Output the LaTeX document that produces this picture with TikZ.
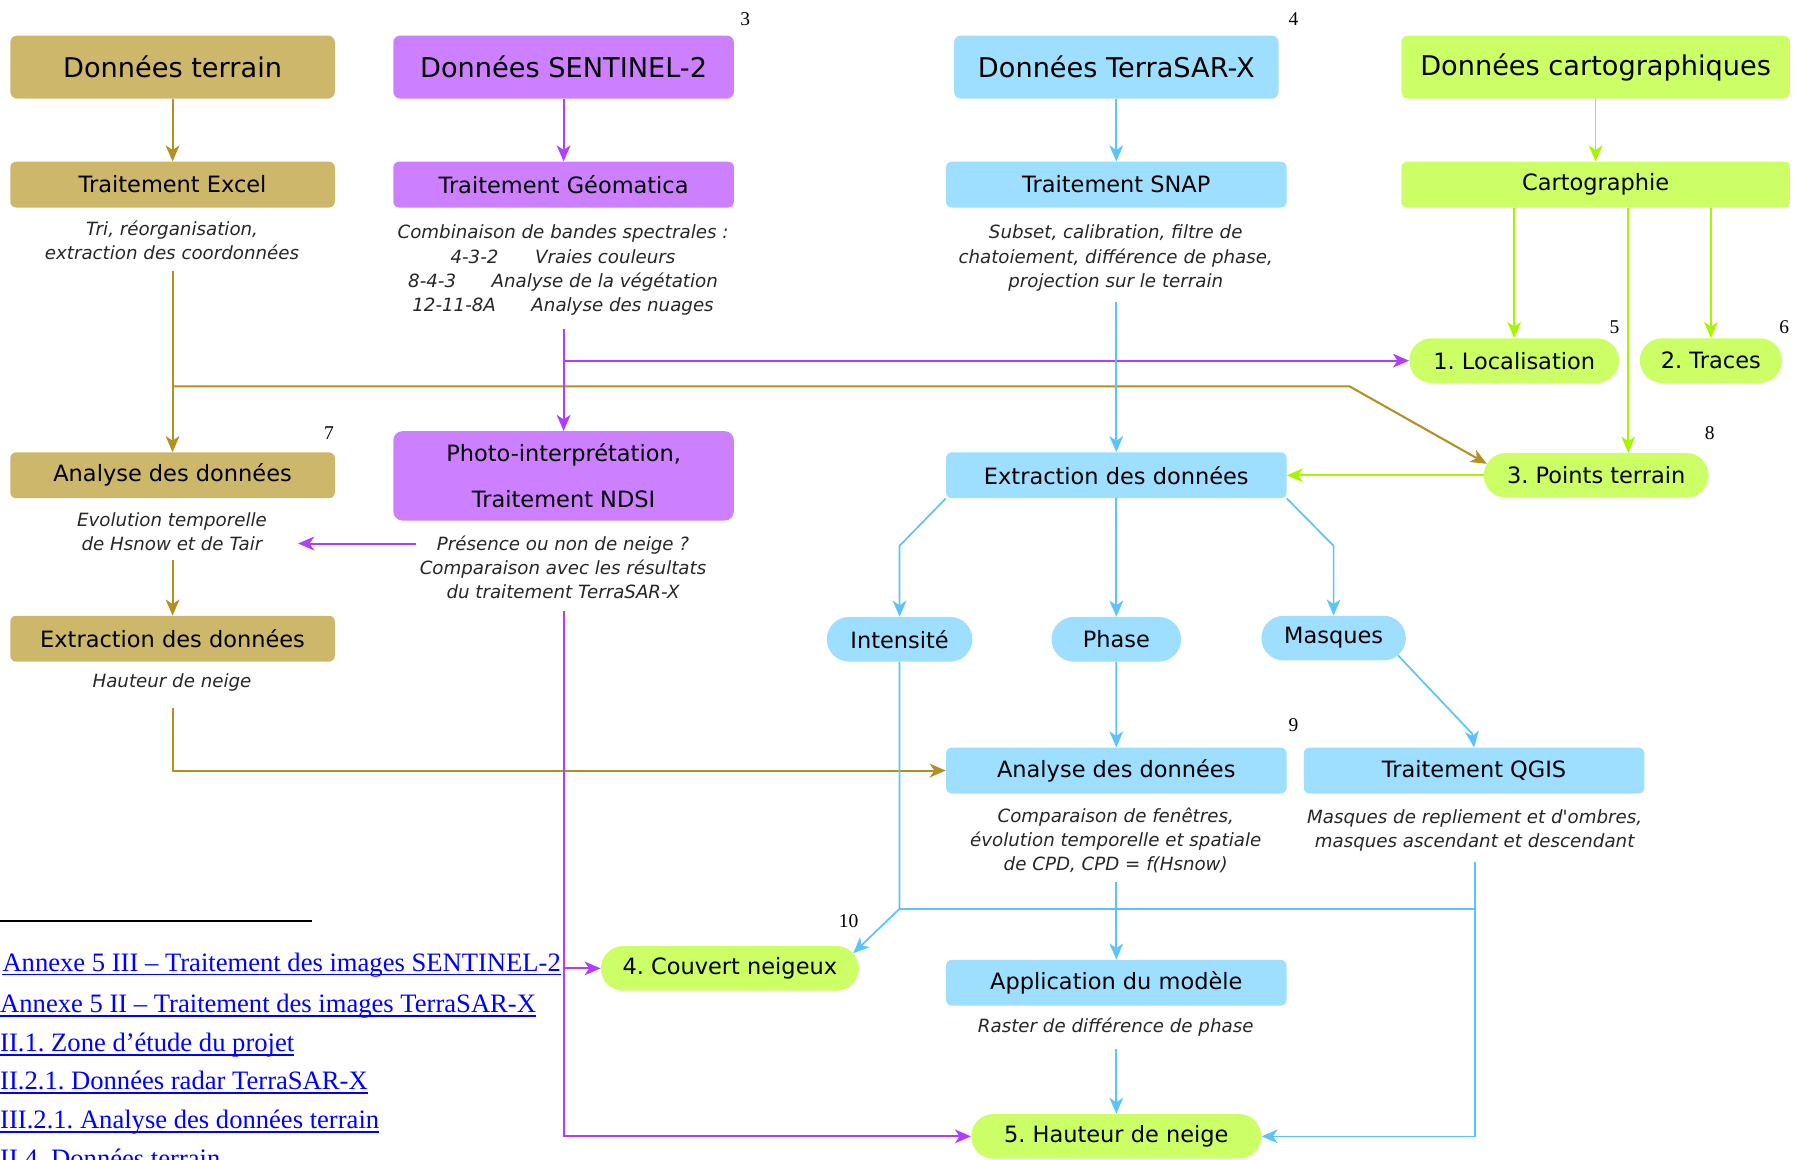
\documentclass[tikz,border=0pt]{standalone}
\usepackage{fontspec}
\setmainfont{DejaVu Sans}[Ligatures=TeXOff,ItalicFont={DejaVu Sans Oblique},BoldFont={DejaVu Sans Bold}]
\newfontfamily\tnr{Liberation Serif}
\usetikzlibrary{arrows.meta,shapes.misc,calc}
\definecolor{tanF}{HTML}{CDB76B}
\definecolor{tanL}{HTML}{B39020}
\definecolor{purF}{HTML}{CC80FF}
\definecolor{purL}{HTML}{B23DFF}
\definecolor{bluF}{HTML}{9EDFFF}
\definecolor{bluL}{HTML}{5BC4FF}
\definecolor{grnF}{HTML}{CCFF66}
\definecolor{grnL}{HTML}{A8F500}
\definecolor{linkc}{HTML}{0000FF}
\definecolor{desct}{HTML}{262626}
\frenchspacing
\begin{document}
\begin{tikzpicture}[x=1pt,y=-1pt,
  big/.style={rounded corners=6pt, minimum height=55pt, font=\fontsize{23.7}{28}\selectfont, inner sep=0pt},
  box/.style={rounded corners=5pt, minimum height=40pt, font=\fontsize{19.6}{24}\selectfont, inner sep=0pt},
  pill/.style={rounded rectangle, minimum height=39pt, font=\fontsize{19.6}{24}\selectfont, inner sep=0pt},
  desc/.style={font=\fontsize{15.9}{21}\selectfont\itshape, text=desct, align=center, inner sep=0pt},
  fn/.style={font=\tnr\fontsize{17}{20}\selectfont, inner sep=0pt},
  lnk/.style={font=\tnr\fontsize{23.2}{27}\selectfont\frenchspacing, text=linkc, anchor=base west, inner sep=0pt},
  tip/.style={-{Stealth[length=14pt,width=12pt,inset=4pt]}},
  tanline/.style={draw=tanL, line width=1.8pt},
  purline/.style={draw=purL, line width=1.8pt},
  bluline/.style={draw=bluL, line width=1.5pt},
  grnline/.style={draw=grnL, line width=1.5pt},
  tanA/.style={tanline, tip},
  purA/.style={purline, tip},
  bluA/.style={bluline, tip},
  grnA/.style={grnline, tip}
]
\useasboundingbox (0,0) rectangle (1568,1011);
\clip (0,0) rectangle (1568,1011);

% top row
\node[big, fill=tanF, minimum width=283pt] (dt) at (150.5,58.5) {Données terrain};
\node[big, fill=purF, minimum width=297pt] (ds) at (491.5,58.5) {Données SENTINEL-2};
\node[big, fill=bluF, minimum width=283pt] (dx) at (973.5,58.5) {Données TerraSAR-X};
\node[big, fill=grnF, minimum width=339pt] (dc) at (1391.5,58.5) {Données cartographiques};

% second row
\node[box, fill=tanF, minimum width=283pt] (te) at (150.5,161) {Traitement Excel};
\node[box, fill=purF, minimum width=297pt] (tg) at (491.5,161) {Traitement Géomatica};
\node[box, fill=bluF, minimum width=297pt] (ts) at (973.5,161) {Traitement SNAP};
\node[box, fill=grnF, minimum width=339pt] (ca) at (1391.5,161) {Cartographie};

% descriptions
\node[desc] (d1) at (150,209.5) {Tri, réorganisation,\\extraction des coordonnées};
\node[desc] (d2) at (491,235.5) {Combinaison de bandes spectrales :\\4-3-2\hspace{32pt}Vraies couleurs\\8-4-3\hspace{31pt}Analyse de la végétation\\12-11-8A\hspace{31pt}Analyse des nuages};
\node[desc] (d3) at (973,225) {Subset, calibration, filtre de\\chatoiement, différence de phase,\\projection sur le terrain};

% green results
\node[pill, fill=grnF, minimum width=183pt] (loc) at (1320.5,314.5) {1. Localisation};
\node[pill, fill=grnF, minimum width=124pt] (tra) at (1492,314.5) {2. Traces};
\node[pill, fill=grnF, minimum width=196pt] (pt) at (1392,414.5) {3. Points terrain};

% third row
\node[box, fill=tanF, minimum width=283pt] (ad) at (150.5,414.5) {Analyse des données};
\node[box, fill=purF, minimum width=297pt, minimum height=78pt, rounded corners=8pt, align=center, font=\fontsize{19.6}{40}\selectfont] (pi) at (491.5,415) {Photo-interprétation,\\Traitement NDSI};
\node[box, fill=bluF, minimum width=297pt] (ex) at (973.5,414.5) {Extraction des données};

\node[desc] (d4) at (150,463.5) {Evolution temporelle\\de Hsnow et de Tair};
\node[desc] (d5) at (491,495) {Présence ou non de neige ?\\Comparaison avec les résultats\\du traitement TerraSAR-X};

\node[box, fill=tanF, minimum width=283pt] (et) at (150.5,557) {Extraction des données};
\node[desc] (d6) at (150,595) {Hauteur de neige};

% blue pills
\node[pill, fill=bluF, minimum width=127pt] (int) at (784.5,557.5) {Intensité};
\node[pill, fill=bluF, minimum width=113pt] (pha) at (973.5,557.5) {Phase};
\node[pill, fill=bluF, minimum width=126pt] (mas) at (1163,556.5) {Masques};

\node[box, fill=bluF, minimum width=297pt] (an) at (973.5,672) {Analyse des données};
\node[box, fill=bluF, minimum width=297pt] (qg) at (1285.5,672) {Traitement QGIS};
\node[desc] (d7) at (973,733) {Comparaison de fenêtres,\\évolution temporelle et spatiale\\de CPD, CPD = f(Hsnow)};
\node[desc] (d8) at (1286,724.5) {Masques de repliement et d'ombres,\\masques ascendant et descendant};
\node[box, fill=bluF, minimum width=297pt] (ap) at (973.5,857) {Application du modèle};
\node[desc] (d9) at (973,896) {Raster de différence de phase};
\node[pill, fill=grnF, minimum width=225pt] (cn) at (636.5,844.5) {4. Couvert neigeux};
\node[pill, fill=grnF, minimum width=253pt] (hn) at (973.5,991) {5. Hauteur de neige};

% footnote marks
\node[fn] (f3) at (650,17) {3};
\node[fn] (f4) at (1128,17) {4};
\node[fn] (f5) at (1408,285) {5};
\node[fn] (f6) at (1556,285) {6};
\node[fn] (f7) at (287,378) {7};
\node[fn] (f8) at (1491,378) {8};
\node[fn] (f9) at (1128,632) {9};
\node[fn] (f10) at (740,803) {10};

% coordinates
\coordinate (t1) at (150.5,236);
\coordinate (t2) at (150.5,337);
\coordinate (t3) at (1177,337);
\coordinate (t5) at (150.5,488);
\coordinate (t6) at (150.5,617);
\coordinate (p1) at (491.5,287);
\coordinate (p2) at (491.5,314.5);
\coordinate (p3) at (363,474);
\coordinate (p4) at (260,474);
\coordinate (p5) at (491.5,533);
\coordinate (p6) at (491.5,844.5);
\coordinate (b1) at (973.5,263);
\coordinate (b2) at (784.5,476);
\coordinate (b3) at (1163,476);
\coordinate (b4) at (784.5,792.5);
\coordinate (b5) at (1286,792.5);
\coordinate (b6) at (1284,640);
\coordinate (b7) at (1286,752);
\coordinate (b8) at (973.5,769);
\coordinate (b9) at (973.5,915);
\coordinate (g1) at (1420,181);

% tan connectors
\draw[tanA] (dt) -- (te);
\draw[tanA] (t1) -- (ad);
\draw[tanA] (t2) -- (t3) -- (pt.174);
\draw[tanA] (t5) -- (et);
\draw[tanA] (t6) |- (an.west);

% purple connectors
\draw[purA] (ds) -- (tg);
\draw[purA] (p1) -- (pi.north);
\draw[purA] (p2) -- (loc.west);
\draw[purA] (p3) -- (p4);
\draw[purA] (p5) |- (hn.west);
\draw[purA] (p6) -- (cn.west);

% blue connectors
\draw[bluA] (dx) -- (ts);
\draw[bluA] (b1) -- (ex);
\draw[bluA] (ex.south west) -- (b2) -- (int.north);
\draw[bluA] (ex) -- (pha);
\draw[bluA] (ex.south east) -- (b3) -- (mas.north);
\draw[bluA] (int.south) -- (b4) -- (cn.7);
\draw[bluline] (b4) -- (b5);
\draw[bluA] (pha) -- (an);
\draw[bluA] (mas.-15) -- (b6) -- (qg.north);
\draw[bluA] (b7) |- (hn.east);
\draw[bluA] (b8) -- (ap);
\draw[bluA] (b9) -- (hn);

% green connectors
\draw[grnA] (dc) -- (ca);
\draw[grnA] (loc |- ca.south) -- (loc.north);
\draw[grnA] (tra |- ca.south) -- (tra.north);
\draw[grnA] (g1) -- (g1 |- pt.north);
\draw[grnA] (pt.west) -- (pt.west -| ex.east);

% footnote rule and links
\coordinate (r1) at (0,803);
\coordinate (r2) at (272,803);
\draw[black, line width=1.5pt] (r1) -- (r2);
\node[lnk] (l1) at (2,847) {Annexe 5 III – Traitement des images SENTINEL-2};
\node[lnk] (l2) at (0,883) {Annexe 5 II – Traitement des images TerraSAR-X};
\node[lnk] (l3) at (0,917) {II.1. Zone d’étude du projet};
\node[lnk] (l4) at (0,950) {II.2.1. Données radar TerraSAR-X};
\node[lnk] (l5) at (0,984) {III.2.1. Analyse des données terrain};
\node[lnk] (l6) at (0,1018) {II.4. Données terrain};
\foreach \l in {l1,l2,l3,l4,l5,l6}
  \draw[linkc, line width=1.4pt] ([yshift=-3pt]\l.base west) -- ([yshift=-3pt]\l.base east);
\end{tikzpicture}
\end{document}
